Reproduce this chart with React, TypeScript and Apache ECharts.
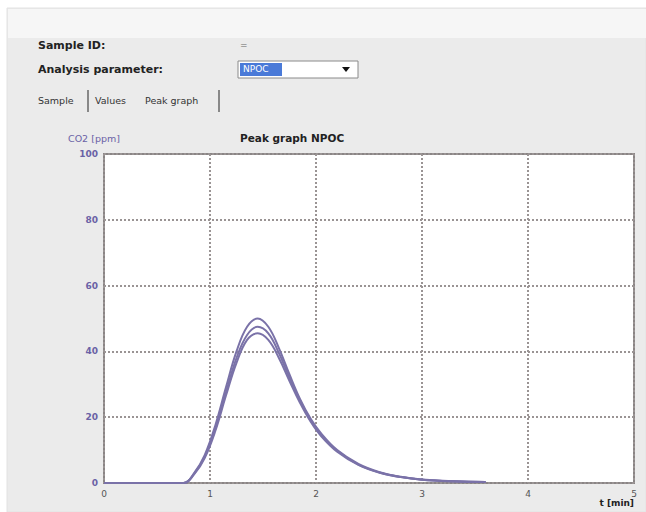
import React, { useEffect, useRef } from "react";
import * as echarts from "echarts";

// time axis (min) for the three peak recordings
const times = [0, 0.75, 0.85, 0.95, 1.05, 1.15, 1.25, 1.35, 1.45, 1.55, 1.65, 1.75, 1.85, 1.95, 2.05, 2.2, 2.4, 2.6, 2.8, 3.0, 3.3, 3.6];
const run1 = [0, 0, 3, 8.5, 17.5, 29, 40, 47.5, 50, 47.5, 41, 33, 25.5, 19.5, 15, 10, 5.8, 3.3, 1.9, 1.1, 0.5, 0.3];
const run2 = [0, 0, 2.8, 8, 16.5, 27.5, 38, 45, 47.5, 45.5, 39.5, 32, 25, 19, 14.5, 9.8, 5.6, 3.2, 1.8, 1.0, 0.5, 0.3];
const run3 = [0, 0, 2.6, 7.6, 15.8, 26.5, 36.5, 43.5, 45.5, 43.5, 38, 31, 24.3, 18.6, 14.2, 9.5, 5.5, 3.1, 1.8, 1.0, 0.5, 0.3];
const xTicks = [0, 1, 2, 3, 4, 5];
const yTicks = [0, 20, 40, 60, 80, 100];

const pairs = (ys: number[]) => times.map((t, i) => [t, ys[i]]);

export default function App() {
  const ref = useRef<HTMLDivElement>(null);
  useEffect(() => {
    const chart = echarts.init(ref.current!, undefined, { renderer: "svg" });
    const lineColor = "#7a72a8";
    const purple = "#6a62a6";
    chart.setOption({
      animation: false,
      backgroundColor: "#ffffff",
      graphic: [
        { type: "rect", shape: { x: 7, y: 8, width: 639, height: 504 }, style: { fill: "#ebebeb", stroke: "#e2e2e2", lineWidth: 1 }, z: -10 },
        { type: "rect", shape: { x: 8, y: 9, width: 638, height: 29 }, style: { fill: "#f6f6f6" }, z: -9 },
        { type: "text", x: 38, y: 40, style: { text: "Sample ID:", font: "bold 11px 'DejaVu Sans'", fill: "#222" } },
        { type: "text", x: 38, y: 64, style: { text: "Analysis parameter:", font: "bold 11px 'DejaVu Sans'", fill: "#222" } },
        { type: "text", x: 240, y: 40, style: { text: "=", font: "9px 'DejaVu Sans'", fill: "#666" } },
        { type: "rect", shape: { x: 238, y: 61, width: 120, height: 17 }, style: { fill: "#ffffff", stroke: "#8a8a8a", lineWidth: 1 } },
        { type: "rect", shape: { x: 240, y: 63, width: 42, height: 13 }, style: { fill: "#4a7ad8" } },
        { type: "text", x: 243, y: 64, style: { text: "NPOC", font: "9px 'DejaVu Sans'", fill: "#ffffff" } },
        { type: "polygon", shape: { points: [[342, 67], [350, 67], [346, 72]] }, style: { fill: "#111" } },
        { type: "text", x: 38, y: 95, style: { text: "Sample", font: "9.5px 'DejaVu Sans'", fill: "#333" } },
        { type: "line", shape: { x1: 88, y1: 90, x2: 88, y2: 112 }, style: { stroke: "#888", lineWidth: 2 } },
        { type: "text", x: 95, y: 95, style: { text: "Values", font: "9.5px 'DejaVu Sans'", fill: "#333" } },
        { type: "text", x: 145, y: 95, style: { text: "Peak graph", font: "9.5px 'DejaVu Sans'", fill: "#333" } },
        { type: "line", shape: { x1: 219, y1: 90, x2: 219, y2: 112 }, style: { stroke: "#888", lineWidth: 2 } },
        { type: "text", x: 68, y: 133, style: { text: "CO2 [ppm]", font: "9.5px 'DejaVu Sans'", fill: purple } },
        { type: "text", x: 240, y: 132, style: { text: "Peak graph NPOC", font: "bold 10.5px 'DejaVu Sans'", fill: "#222" } },
        { type: "text", x: 634, y: 498, style: { text: "t [min]", font: "bold 9px 'DejaVu Sans'", fill: "#222", align: "right" } },
      ],
      grid: { left: 104, top: 154, width: 530, height: 329, show: true, backgroundColor: "#ffffff", borderColor: "#8a8585", borderWidth: 2 },
      xAxis: {
        type: "value", min: 0, max: 5, interval: 1,
        axisLine: { show: false }, axisTick: { show: false },
        axisLabel: { color: "#555", fontSize: 9, margin: 6, fontFamily: "DejaVu Sans", formatter: (v: number) => (xTicks.includes(v) ? String(v) : "") },
        splitLine: { show: true, lineStyle: { color: "#9a9494", width: 2, type: [2, 2] } },
      },
      yAxis: {
        type: "value", min: 0, max: 100, interval: 20,
        axisLine: { show: false }, axisTick: { show: false },
        axisLabel: { color: purple, fontSize: 9, margin: 6, fontWeight: "bold", fontFamily: "DejaVu Sans", formatter: (v: number) => (yTicks.includes(v) ? String(v) : "") },
        splitLine: { show: true, lineStyle: { color: "#9a9494", width: 2, type: [2, 2] } },
      },
      series: [run1, run2, run3].map((d) => ({
        type: "line", data: pairs(d), smooth: 0.4, showSymbol: false, symbol: "none",
        lineStyle: { color: lineColor, width: 2 }, z: 3,
      })),
    });
    return () => chart.dispose();
  }, []);
  return <div ref={ref} style={{ position: "fixed", left: 0, top: 0, width: 646, height: 512 }} />;
}
